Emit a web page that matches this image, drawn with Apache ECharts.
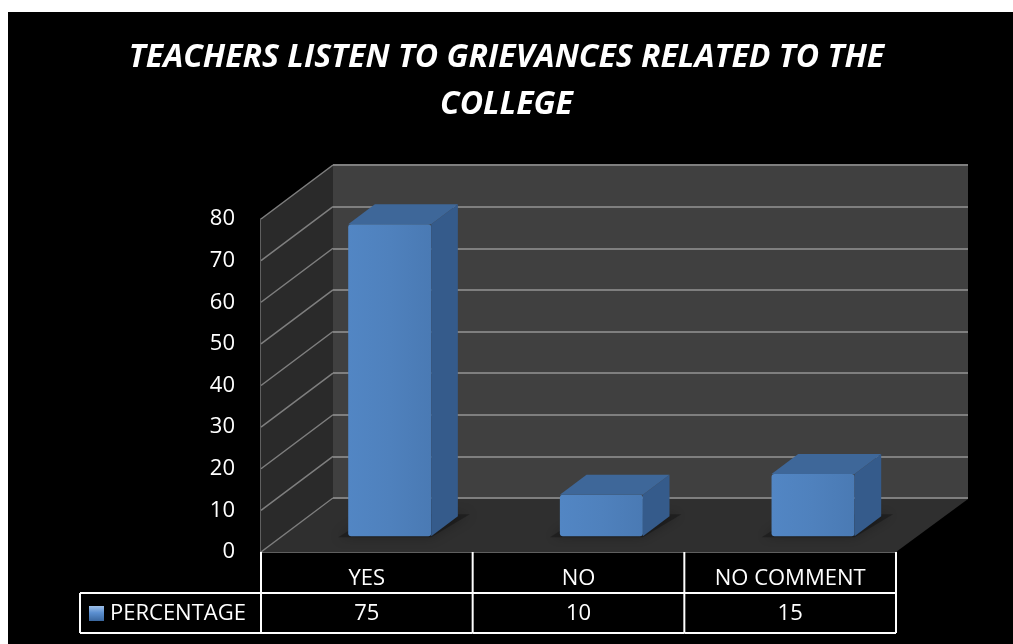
<!DOCTYPE html>
<html>
<head>
<meta charset="utf-8">
<script src="https://cdn.jsdelivr.net/npm/echarts@6/dist/echarts.min.js"></script>
<style>
html,body{margin:0;padding:0;background:#fff;}
#chart{width:1013px;height:644px;}
</style>
</head>
<body>
<div id="chart"></div>
<script>
// ---- data ----
const titleText = 'TEACHERS LISTEN TO GRIEVANCES RELATED TO THE\nCOLLEGE';
const categories = ['YES', 'NO', 'NO COMMENT'];
const seriesName = 'PERCENTAGE';
const percentage = [75, 10, 15];
const yTicks = [0, 10, 20, 30, 40, 50, 60, 70, 80];

// ---- layout ----
const BACK = { left: 333, top: 165, width: 635, height: 333 };
const DEPTH = [-72, 54];
const FRONT = { left: BACK.left + DEPTH[0], top: BACK.top + DEPTH[1], width: BACK.width, height: BACK.height };
const FONT = '"Open Sans", "Noto Sans", sans-serif';
const GRID_COLOR = '#7f7f7f';

const chart = echarts.init(document.getElementById('chart'), null, { renderer: 'canvas' });

function wallsItem(params, api) {
  const cs = params.coordSys;
  const xl = cs.x, xr = cs.x + cs.width;
  const yb = cs.y + cs.height, yt = cs.y;
  const dx = DEPTH[0], dy = DEPTH[1];
  const children = [];
  children.push({ type: 'polygon', shape: { points: [[xl, yt], [xl, yb], [xl + dx, yb + dy], [xl + dx, yt + dy]] },
    style: { fill: '#2a2a2a' } });
  children.push({ type: 'polygon', shape: { points: [[xl, yb + 1], [xr, yb + 1], [xr + dx, yb + dy], [xl + dx, yb + dy]] },
    style: { fill: '#2f2f2f' } });
  yTicks.forEach(function (t) {
    const y = api.coord([0, t])[1];
    children.push({ type: 'line', shape: { x1: xl, y1: y, x2: xl + dx, y2: y + dy },
      style: { stroke: GRID_COLOR, lineWidth: 1.5 } });
  });
  return { type: 'group', children: children };
}

function barItem(params, api) {
  const cat = api.value(0), val = api.value(1);
  const base = api.coord([cat, 0]);
  const topP = api.coord([cat, val]);
  const cx = base[0] + 2, y0 = base[1], y1 = topP[1];
  const w = 83;
  const fF = 0.71, fB = 0.34;
  const fx = cx + DEPTH[0] * fF, fy = DEPTH[1] * fF;
  const bx = cx + DEPTH[0] * fB, by = DEPTH[1] * fB;
  const L = fx - w / 2, R = fx + w / 2, bL = bx - w / 2, bR = bx + w / 2;
  return {
    type: 'group',
    children: [
      { type: 'polygon', shape: { points: [[L - 10, y0 + fy + 1], [R, y0 + fy + 1], [bR + 12, y0 + by - 2], [bL, y0 + by - 2]] },
        style: { fill: 'rgba(0,0,0,0.28)', shadowBlur: 12, shadowColor: 'rgba(0,0,0,0.9)' } },
      { type: 'rect', shape: { x: L, y: y1 + fy, width: w, height: y0 - y1, r: 3 },
        style: { fill: new echarts.graphic.LinearGradient(0, 0, 1, 0, [
          { offset: 0, color: '#5286c4' }, { offset: 0.5, color: '#4f81bd' }, { offset: 1, color: '#4a7ab4' }]) } },
      { type: 'polygon', shape: { points: [[R, y0 + fy], [R, y1 + fy], [bR, y1 + by], [bR, y0 + by]] },
        style: { fill: '#355b8b' } },
      { type: 'polygon', shape: { points: [[L, y1 + fy], [R, y1 + fy], [bR, y1 + by], [bL, y1 + by]] },
        style: { fill: '#3e6799' } }
    ]
  };
}

function tableItem(params, api) {
  const cs = params.coordSys;
  const i = api.value(0), val = api.value(1);
  const bw = api.size([1, 0])[0];
  const cx = api.coord([i, 0])[0];
  const left = cx - bw / 2, right = cx + bw / 2;
  const top = cs.y + cs.height;
  const r1 = top + 41, r2 = top + 81;
  const line = { stroke: '#ffffff', lineWidth: 2 };
  const children = [
    { type: 'line', shape: { x1: right, y1: top, x2: right, y2: r2 }, style: line },
    { type: 'line', shape: { x1: left, y1: r1, x2: right, y2: r1 }, style: line },
    { type: 'line', shape: { x1: left, y1: r2, x2: right, y2: r2 }, style: line },
    { type: 'text', style: { text: String(val), x: cx, y: (r1 + r2) / 2 + 1, align: 'center', verticalAlign: 'middle',
      fill: '#fff', font: '22px ' + FONT } }
  ];
  if (i === 0) {
    const lx = 80;
    children.push(
      { type: 'line', shape: { x1: left, y1: top, x2: left, y2: r2 }, style: line },
      { type: 'line', shape: { x1: lx, y1: r1, x2: left, y2: r1 }, style: line },
      { type: 'line', shape: { x1: lx, y1: r2, x2: left, y2: r2 }, style: line },
      { type: 'line', shape: { x1: lx, y1: r1, x2: lx, y2: r2 }, style: line },
      { type: 'rect', shape: { x: 89, y: (r1 + r2) / 2 - 7, width: 15, height: 15 },
        style: { fill: new echarts.graphic.LinearGradient(0, 0, 0, 1, [
          { offset: 0, color: '#9ec0ea' }, { offset: 0.45, color: '#5b8fd0' }, { offset: 1, color: '#3a679f' }]) } },
      { type: 'text', style: { text: seriesName, x: 110, y: (r1 + r2) / 2 + 1, align: 'left', verticalAlign: 'middle',
        fill: '#fff', font: '22px ' + FONT } }
    );
  }
  return { type: 'group', children: children };
}

const option = {
  backgroundColor: '#ffffff',
  animation: false,
  graphic: [{ type: 'rect', left: 8, top: 12, shape: { width: 1005, height: 632 }, style: { fill: '#000' }, z: -10 }],
  title: {
    text: titleText,
    left: 'center',
    top: 29,
    textStyle: { color: '#fff', fontSize: 32, fontWeight: 'bold', fontStyle: 'italic', lineHeight: 47,
      fontFamily: FONT }
  },
  grid: [
    { left: BACK.left, top: BACK.top, width: BACK.width, height: BACK.height, show: true, backgroundColor: '#404040', borderWidth: 0 },
    { left: FRONT.left, top: FRONT.top, width: FRONT.width, height: FRONT.height, show: false }
  ],
  xAxis: [
    { type: 'category', gridIndex: 0, data: categories, axisLine: { show: false }, axisTick: { show: false }, axisLabel: { show: false } },
    { type: 'category', gridIndex: 1, data: categories, axisLine: { show: true, lineStyle: { color: GRID_COLOR, width: 1.5 } },
      axisTick: { show: false },
      axisLabel: { color: '#fff', fontSize: 22, fontFamily: FONT, margin: 16 } }
  ],
  yAxis: [
    { type: 'value', gridIndex: 0, min: 0, max: 80, interval: 10, axisLine: { show: false }, axisTick: { show: false },
      axisLabel: { show: false }, splitLine: { show: true, lineStyle: { color: GRID_COLOR, width: 2 } } },
    { type: 'value', gridIndex: 1, min: 0, max: 80, interval: 10,
      axisLine: { show: true, lineStyle: { color: GRID_COLOR, width: 1.5 } }, axisTick: { show: false },
      splitLine: { show: false },
      axisLabel: { color: '#fff', fontSize: 22, fontFamily: FONT, margin: 26, padding: [6, 0, 0, 0] } }
  ],
  series: [
    { type: 'custom', name: 'walls', xAxisIndex: 0, yAxisIndex: 0, data: [[0, 0]], renderItem: wallsItem, z: 1, silent: true },
    { type: 'custom', name: seriesName, xAxisIndex: 0, yAxisIndex: 0, z: 3,
      data: percentage.map(function (v, i) { return [i, v]; }), renderItem: barItem },
    { type: 'custom', name: 'table', xAxisIndex: 1, yAxisIndex: 1, z: 4,
      data: percentage.map(function (v, i) { return [i, v]; }), renderItem: tableItem }
  ]
};
chart.setOption(option);
</script>
</body>
</html>
